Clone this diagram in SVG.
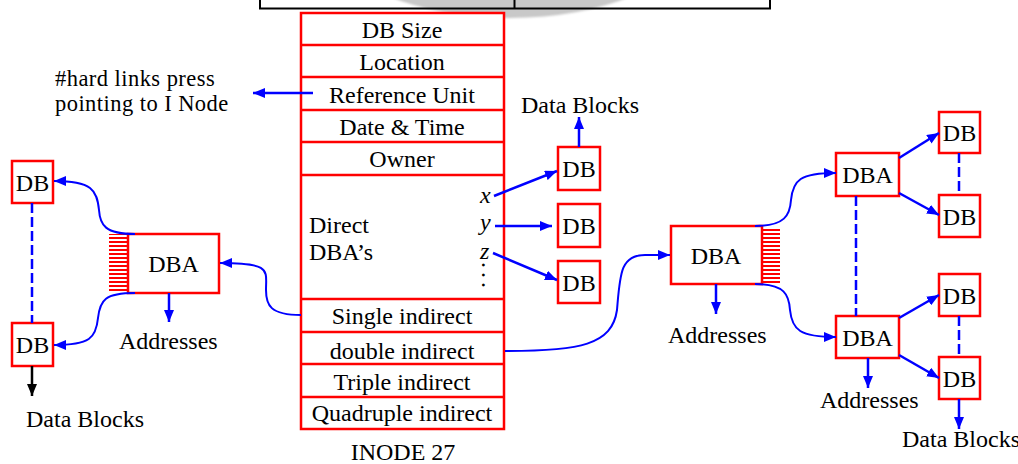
<svg xmlns="http://www.w3.org/2000/svg" width="1018" height="464" viewBox="0 0 1018 464">
  <style>
    text { font-family: "Liberation Serif", "Times New Roman", serif; font-size: 24px; fill: #000; }
    .c { text-anchor: middle; }
    .note { font-size: 22.5px; letter-spacing: 0.45px; }
    .box { fill: #fff; stroke: #ff0000; stroke-width: 2.5; }
    .row { stroke: #ff0000; stroke-width: 2.5; }
    .arrow { fill: none; stroke: #0000ff; stroke-width: 2.5; marker-end: url(#ah); }
    .curve { fill: none; stroke: #0000ff; stroke-width: 2; marker-end: url(#ah); }
    .dash { fill: none; stroke: #0000ff; stroke-width: 2.5; stroke-dasharray: 10 4; }
    .hatch { fill: url(#stripes); }
  </style>
  <defs>
    <marker id="ah" markerUnits="userSpaceOnUse" markerWidth="12" markerHeight="10" refX="12" refY="5" orient="auto">
      <path d="M0,0 L12,5 L0,10 z" fill="#0000ff"/>
    </marker>
    <marker id="ahk" markerUnits="userSpaceOnUse" markerWidth="12" markerHeight="10" refX="12" refY="5" orient="auto">
      <path d="M0,0 L12,5 L0,10 z" fill="#000"/>
    </marker>
    <pattern id="stripes" patternUnits="userSpaceOnUse" width="20" height="4" y="1">
      <rect x="0" y="0" width="20" height="2" fill="#ff0000"/>
    </pattern>
    <filter id="soft" x="-10%" y="-50%" width="120%" height="200%">
      <feGaussianBlur stdDeviation="1.2"/>
    </filter>
  </defs>

  <!-- backdrop shading and header table at the top edge -->
  <ellipse cx="510" cy="-60" rx="175" ry="78" fill="#c8c8c8" filter="url(#soft)"/>
  <g id="header-table" fill="none" stroke="#000" stroke-width="2">
    <path d="M260,0 V8.5 H770 V0"/>
    <path d="M514.5,0 V8.5"/>
  </g>

  <!-- inode table -->
  <g id="inode">
    <rect class="box" x="301" y="13" width="203" height="416"/>
    <path class="row" d="M301,45 H504 M301,77 H504 M301,110 H504 M301,142 H504 M301,175 H504 M301,299 H504 M301,332 H504 M301,364 H504 M301,397 H504"/>
    <text class="c" x="402" y="37.5">DB Size</text>
    <text class="c" x="402" y="70">Location</text>
    <text class="c" x="402" y="102.5">Reference  Unit</text>
    <text class="c" x="402" y="134.5">Date &amp; Time</text>
    <text class="c" x="402" y="167">Owner</text>
    <text x="309" y="233">Direct</text>
    <text x="309" y="260">DBA’s</text>
    <text x="480" y="203" font-style="italic">x</text>
    <text x="480" y="230" font-style="italic">y</text>
    <text x="480" y="258.5" font-style="italic">z</text>
    <!-- vertical ellipsis: a dotted run turned on its side -->
    <text transform="translate(481.5,262) rotate(90)" x="0" y="0" letter-spacing="4">...</text>
    <text class="c" x="402" y="323.5">Single indirect</text>
    <text class="c" x="402" y="359">double indirect</text>
    <text class="c" x="402" y="389.5">Triple indirect</text>
    <text class="c" x="402" y="421">Quadruple indirect</text>
    <text class="c" x="403" y="460">INODE 27</text>
  </g>

  <!-- hard link note -->
  <g id="hardlinks-note">
    <text class="note" x="55" y="86">#hard links press</text>
    <text class="note" x="55" y="111">pointing to I Node</text>
  </g>

  <!-- direct data blocks -->
  <g id="db-x"><rect class="box" x="558" y="147" width="42" height="43"/><text class="c" x="579" y="177">DB</text></g>
  <g id="db-y"><rect class="box" x="558" y="204" width="42" height="43"/><text class="c" x="579" y="234">DB</text></g>
  <g id="db-z"><rect class="box" x="558" y="261" width="42" height="42"/><text class="c" x="579" y="291">DB</text></g>
  <g id="label-data-blocks-top"><text class="c" x="580" y="113">Data Blocks</text></g>

  <!-- single indirect side -->
  <g id="dba-single">
    <rect class="hatch" x="109" y="234" width="19" height="59"/>
    <rect class="box" x="128" y="234" width="91" height="59"/>
    <text class="c" x="173.5" y="272">DBA</text>
  </g>
  <g id="db-left-top"><rect class="box" x="12" y="161" width="41" height="42"/><text class="c" x="32.5" y="191">DB</text></g>
  <g id="db-left-bottom"><rect class="box" x="12" y="323" width="41" height="43"/><text class="c" x="32.5" y="353">DB</text></g>
  <g id="label-addresses-left"><text x="119" y="349">Addresses</text></g>
  <g id="label-data-blocks-left"><text x="26" y="427">Data Blocks</text></g>

  <!-- double indirect side -->
  <g id="dba-double">
    <rect class="hatch" x="762" y="227" width="18" height="57"/>
    <rect class="box" x="671" y="226" width="91" height="58"/>
    <text class="c" x="716" y="264">DBA</text>
  </g>
  <g id="dba-upper"><rect class="box" x="836" y="153" width="63" height="43"/><text class="c" x="867.5" y="183">DBA</text></g>
  <g id="dba-lower"><rect class="box" x="836" y="316" width="63" height="42"/><text class="c" x="867.5" y="346">DBA</text></g>
  <g id="db-r1"><rect class="box" x="939" y="112" width="41" height="41"/><text class="c" x="959.5" y="141">DB</text></g>
  <g id="db-r2"><rect class="box" x="939" y="195" width="41" height="42"/><text class="c" x="959.5" y="225">DB</text></g>
  <g id="db-r3"><rect class="box" x="939" y="274" width="41" height="42"/><text class="c" x="959.5" y="304">DB</text></g>
  <g id="db-r4"><rect class="box" x="939" y="357" width="41" height="42"/><text class="c" x="959.5" y="387">DB</text></g>
  <g id="label-addresses-mid"><text x="668" y="343">Addresses</text></g>
  <g id="label-addresses-right"><text x="820" y="408">Addresses</text></g>
  <g id="label-data-blocks-right"><text x="902" y="447">Data Blocks</text></g>

  <!-- connectors -->
  <g id="connectors">
    <path class="arrow" d="M313,93 H253"/>
    <path class="arrow" d="M494,196 L557,171"/>
    <path class="arrow" d="M495,226 H552"/>
    <path class="arrow" d="M493,253 L557,280"/>
    <path class="arrow" d="M579,147 V117"/>

    <path class="curve" d="M301,315 C270,315 266,305 266,290 C266,270 272,263 220,263"/>
    <path class="curve" d="M135,234 C105,234 100,225 99,210 C97,190 92,181 54,181"/>
    <path class="curve" d="M135,293 C105,293 100,300 98,318 C96,338 90,345 54,345"/>
    <path class="arrow" d="M169,293 V322"/>
    <path class="dash" d="M32,203 V323"/>
    <path d="M32,366 V396" fill="none" stroke="#000" stroke-width="2.5" marker-end="url(#ahk)"/>

    <path class="curve" d="M505,351 C580,351 612,345 617,310 C620,275 620,255 645,255 L670,255"/>
    <path class="arrow" d="M716,284 V314"/>
    <path class="curve" d="M755,226 C785,226 790,215 791,200 C793,180 800,173 836,173"/>
    <path class="curve" d="M755,284 C785,284 789,295 790,310 C792,330 800,337 836,337"/>
    <path class="dash" d="M856,196 V316"/>
    <path class="arrow" d="M899,158 L939,133"/>
    <path class="arrow" d="M899,193 L939,215"/>
    <path class="arrow" d="M899,318 L939,295"/>
    <path class="arrow" d="M899,355 L939,378"/>
    <path class="dash" d="M959,153 V195"/>
    <path class="dash" d="M959,316 V357"/>
    <path class="arrow" d="M868,358 V388"/>
    <path class="arrow" d="M959,399 V429"/>
  </g>
</svg>
